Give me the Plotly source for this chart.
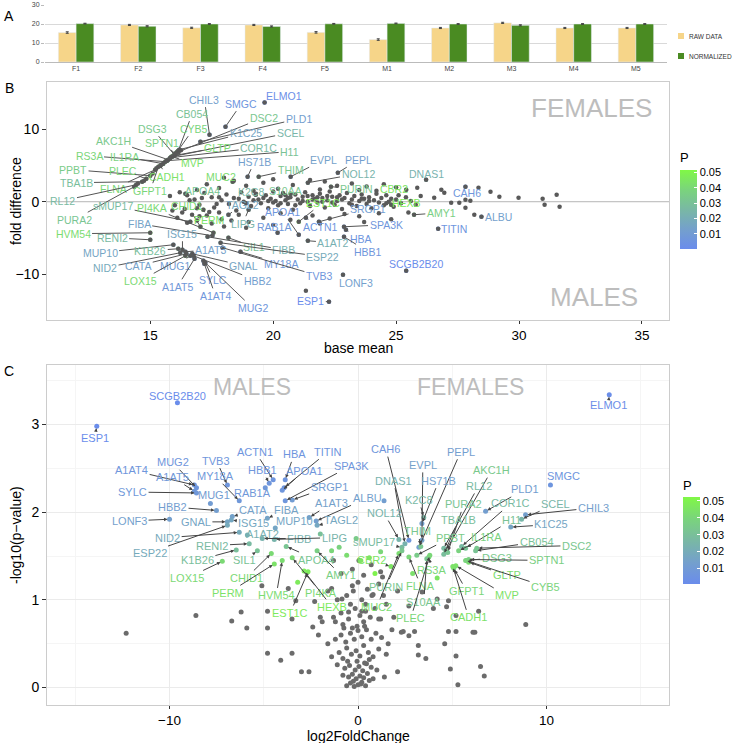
import plotly.graph_objects as go
from plotly.colors import sample_colorscale

W, H = 733, 743
FONT = "Liberation Sans, Arial, Helvetica, sans-serif"

def pxx(x):
    return x / W

def pxy(y):
    return 1 - y / H

# ---------------- Panel A data ----------------
samples = ["F1", "F2", "F3", "F4", "F5", "M1", "M2", "M3", "M4", "M5"]
raw_data = [15.5, 19.5, 18.0, 19.5, 15.6, 11.8, 17.9, 20.6, 17.9, 17.9]
raw_err = [0.4, 0.3, 0.3, 0.3, 0.4, 0.4, 0.3, 0.3, 0.3, 0.3]
normalized = [20.2, 18.8, 20.0, 18.7, 20.1, 20.3, 20.0, 19.3, 20.0, 20.0]
norm_err = [0.2, 0.3, 0.2, 0.3, 0.2, 0.2, 0.2, 0.3, 0.2, 0.2]

# ---------------- P values of significant genes ----------------
p_gene = ["CHIL3", "SMGC", "ELMO1", "CB054", "DSC2", "PLD1", "DSG3", "CYB5", "K1C25", "SCEL",
          "AKC1H", "SPTN1", "GLTP", "COR1C", "H11", "RS3A", "IL1RA", "MVP", "PPBT", "PLEC",
          "TBA1B", "CADH1", "FLNA", "GFPT1", "RL12", "PURA2", "HS71B", "EVPL", "PEPL", "THIM",
          "NOL12", "MUC2", "DNAS1", "APOA4", "K2C8", "S10AA", "PURIN", "CBR2", "CAH6", "CHID1",
          "sMUP17", "PI4KA", "TAGL2", "APOA1", "EST1C", "SRGP1", "HEXB", "PERM", "LIPG", "RAB1A",
          "ACTN1", "SPA3K", "AMY1", "ALBU", "TITIN", "HVM54", "RENI2", "FIBA", "ISG15", "HBA",
          "A1AT2", "MUP10", "K1B26", "A1AT3", "SIL1", "FIBB", "HBB1", "ESP22", "MY18A", "NID2",
          "CATA", "MUG1", "GNAL", "SCGB2B20", "TVB3", "HBB2", "LOX15", "A1AT5", "SYLC", "A1AT4",
          "MUG2", "LONF3", "ESP1"]
p_value = [0.013, 0.006, 0.002, 0.031, 0.033, 0.012, 0.034, 0.039, 0.016, 0.025,
           0.034, 0.037, 0.042, 0.027, 0.031, 0.040, 0.038, 0.044, 0.035, 0.040,
           0.029, 0.044, 0.040, 0.040, 0.027, 0.032, 0.013, 0.014, 0.012, 0.033,
           0.024, 0.042, 0.023, 0.032, 0.026, 0.033, 0.033, 0.045, 0.007, 0.041,
           0.028, 0.041, 0.017, 0.007, 0.047, 0.011, 0.047, 0.044, 0.024, 0.008,
           0.006, 0.007, 0.037, 0.013, 0.006, 0.042, 0.027, 0.015, 0.017, 0.006,
           0.022, 0.016, 0.029, 0.014, 0.031, 0.023, 0.007, 0.019, 0.008, 0.019,
           0.014, 0.011, 0.016, 0.001, 0.007, 0.012, 0.041, 0.008, 0.008, 0.007,
           0.007, 0.013, 0.001]

# ---------------- Panel B: labelled genes (gene, base mean, fold, label mean, label fold) ----
b_genes = [
    ("CHIL3", 17.41, 9.24, 17.2, 14.07), ("SMGC", 18.06, 10.34, 18.71, 13.52),
    ("ELMO1", 19.65, 13.66, 20.43, 14.62), ("CB054", 16.14, 7.03, 16.71, 12.14),
    ("DSC2", 16.06, 6.76, 19.61, 11.59), ("PLD1", 17.04, 8.28, 21.04, 11.45),
    ("DSG3", 15.98, 6.48, 15.08, 10.07), ("CYB5", 16.1, 6.9, 16.76, 10.07),
    ("K1C25", 16.18, 7.17, 18.88, 9.52), ("SCEL", 15.9, 6.21, 20.71, 9.52),
    ("AKC1H", 15.73, 5.79, 13.49, 8.41), ("SPTN1", 16.02, 6.62, 15.49, 8.14),
    ("GLTP", 15.94, 6.34, 17.73, 7.45), ("COR1C", 15.82, 6.07, 19.41, 7.45),
    ("H11", 15.69, 5.66, 20.67, 6.9), ("RS3A", 15.61, 5.52, 12.51, 6.34),
    ("IL1RA", 15.53, 5.24, 13.94, 6.21), ("MVP", 15.86, 6.21, 16.71, 5.38),
    ("PPBT", 15.0, 3.59, 11.86, 4.41), ("PLEC", 14.84, 3.17, 13.9, 4.28),
    ("TBA1B", 14.67, 2.76, 11.98, 2.62), ("CADH1", 15.41, 4.97, 15.69, 3.45),
    ("FLNA", 15.2, 4.41, 13.49, 1.79), ("GFPT1", 15.33, 4.83, 15.0, 1.52),
    ("RL12", 14.43, 2.34, 11.45, 0.14), ("PURA2", 14.35, 2.07, 11.9, -2.48),
    ("HS71B", 18.96, 3.45, 19.24, 5.52), ("EVPL", 20.71, 3.45, 22.06, 5.79),
    ("PEPL", 22.63, 4.0, 23.49, 5.79), ("THIM", 19.41, 3.45, 20.71, 4.41),
    ("NOL12", 21.41, 2.62, 23.45, 3.86), ("MUC2", 18.35, 2.76, 17.86, 3.45),
    ("DNAS1", 26.22, 3.03, 26.22, 3.86), ("APOA4", 16.43, 1.1, 17.12, 1.52),
    ("K2C8", 19.29, 0.97, 19.08, 1.38), ("S10AA", 20.71, 1.1, 20.51, 1.52),
    ("PURIN", 22.35, 2.07, 23.37, 1.79), ("CBR2", 25.41, 1.66, 24.92, 1.79),
    ("CAH6", 27.82, 2.07, 27.9, 1.24), ("CHID1", 17.04, -3.45, 16.51, -0.55),
    ("sMUP17", 16.63, -2.76, 13.49, -0.55), ("PI4KA", 17.57, -4.28, 15.08, -0.83),
    ("TAGL2", 18.18, -1.79, 18.76, -0.41), ("APOA1", 21.04, -4.55, 20.39, -1.38),
    ("EST1C", 21.04, -2.76, 22.02, -0.14), ("SRGP1", 21.86, -2.76, 23.86, -0.97),
    ("HEXB", 24.8, -0.41, 25.41, -0.14), ("PERM", 17.16, -1.1, 17.37, -2.48),
    ("LIPG", 19.0, -1.1, 18.76, -3.03), ("RAB1A", 20.18, -4.28, 20.02, -3.45),
    ("ACTN1", 21.33, -2.21, 21.94, -3.45), ("SPA3K", 22.88, -3.45, 24.59, -3.17),
    ("AMY1", 25.73, -1.79, 26.84, -1.52), ("ALBU", 28.47, -2.07, 29.16, -2.07),
    ("TITIN", 26.71, -3.72, 27.37, -3.72), ("HVM54", 15.0, -4.28, 11.86, -4.41),
    ("RENI2", 15.0, -5.24, 13.45, -4.97), ("FIBA", 17.53, -4.69, 14.55, -3.03),
    ("ISG15", 16.31, -6.62, 16.31, -4.41), ("HBA", 22.96, -3.86, 23.57, -5.1),
    ("A1AT2", 21.41, -5.38, 22.43, -5.66), ("MUP10", 15.94, -5.93, 12.96, -7.03),
    ("K1B26", 16.14, -6.48, 15.0, -6.76), ("A1AT3", 16.43, -6.9, 17.45, -6.62),
    ("SIL1", 18.18, -4.97, 19.2, -6.21), ("FIBB", 17.33, -4.83, 20.43, -6.62),
    ("HBB1", 22.88, -4.83, 23.86, -6.9), ("ESP22", 17.86, -5.66, 22.02, -7.59),
    ("MY18A", 18.67, -6.9, 20.31, -8.55), ("NID2", 16.22, -7.03, 13.16, -9.1),
    ("CATA", 16.47, -7.17, 14.51, -8.83), ("MUG1", 16.63, -7.45, 16.02, -8.83),
    ("GNAL", 16.71, -7.17, 18.8, -8.83), ("SCGB2B20", 25.41, -9.52, 25.82, -8.55),
    ("TVB3", 17.94, -6.34, 21.86, -10.21), ("HBB2", 16.76, -7.45, 19.37, -10.9),
    ("LOX15", 16.43, -7.45, 14.59, -10.9), ("A1AT5", 16.8, -7.86, 16.1, -11.72),
    ("SYLC", 17.24, -8.41, 17.57, -10.76), ("A1AT4", 17.2, -8.55, 17.65, -12.97),
    ("MUG2", 17.16, -8.14, 19.16, -14.62), ("LONF3", 22.84, -10.07, 23.37, -11.17),
    ("ESP1", 22.27, -13.79, 21.53, -13.66),
]

# Panel B: other (non-labelled) genes: (base mean, fold difference)
b_cloud = [
    (17.3, 2.4), (17.8, 1.9), (18.4, 2.9), (18.9, 2.2), (19.6, 2.6), (20.2, 1.8), (20.8, 2.3),
    (21.5, 3.0), (22.1, 2.8), (22.6, 2.2), (23.2, 2.5), (23.8, 2.1), (24.5, 2.4), (25.0, 2.0),
    (16.9, 1.6), (19.2, 1.5), (21.9, 1.7), (23.5, 1.6), (24.2, 1.5), (18.0, 3.3), (20.0, 3.1),
    (16.5, 0.9), (16.8, 0.3), (17.0, -0.4), (17.2, 1.2), (17.5, 0.6), (17.6, -0.8), (17.9, 0.2),
    (18.1, 1.0), (18.2, -0.3), (18.4, 0.5), (18.5, -1.2), (18.7, 1.3), (18.8, 0.0), (19.0, 0.7),
    (19.1, -0.6), (19.3, 1.1), (19.4, 0.3), (19.5, -0.2), (19.7, 0.9), (19.8, -0.9), (19.9, 0.4),
    (20.0, 1.4), (20.1, 0.1), (20.2, -0.5), (20.3, 0.8), (20.4, 1.2), (20.5, 0.2), (20.6, -0.3),
    (20.7, 0.6), (20.8, -1.1), (20.9, 1.0), (21.0, 0.3), (21.1, -0.2), (21.2, 0.7), (21.3, 1.3),
    (21.4, 0.0), (21.5, -0.6), (21.6, 0.9), (21.7, 0.4), (21.8, -0.1), (21.9, 1.1), (22.0, 0.5),
    (22.1, -0.8), (22.2, 0.2), (22.3, 1.4), (22.4, 0.7), (22.5, -0.4), (22.6, 0.1), (22.7, 0.9),
    (22.8, -1.0), (22.9, 0.5), (23.0, 1.2), (23.1, -0.2), (23.2, 0.3), (23.3, 0.8), (23.4, -0.6),
    (23.5, 0.1), (23.6, 1.0), (23.7, 0.4), (23.8, -0.3), (23.9, 0.6), (24.0, -0.9), (24.1, 0.2),
    (24.2, 1.1), (24.3, -0.1), (24.4, 0.5), (24.5, -0.5), (24.6, 0.9), (24.7, 0.0), (24.8, 0.4),
    (24.9, -0.7), (25.0, 0.3), (25.1, 0.9), (25.2, -0.2), (25.4, 0.6), (25.6, 0.1), (25.8, -0.4),
    (26.0, 0.8), (19.6, 0.5), (20.0, -0.1), (20.6, 0.5), (21.2, 0.1), (21.6, 0.3), (22.0, 0.0),
    (22.4, -0.1), (22.8, 0.3), (23.2, -0.4), (23.6, 0.4), (20.3, -0.2), (21.8, 0.6), (19.2, 0.2),
    (18.6, 0.4), (17.8, 0.6), (18.9, -0.2), (20.9, -0.5), (22.6, 0.6), (23.9, 0.1), (24.6, -0.2),
    (21.4, 0.8), (20.5, 0.9), (19.8, 0.1), (22.2, 0.8),
    (15.8, 0.8), (16.0, -0.5), (16.2, 1.3), (16.4, -1.0), (16.6, 0.2), (16.7, -1.8), (16.9, -0.9),
    (17.1, 0.5), (17.4, -1.4), (17.7, -0.3), (16.1, -2.2), (16.5, -2.9), (17.0, -2.0), (17.5, -3.0),
    (17.8, -1.5), (18.3, -2.6), (18.0, -3.4), (15.9, -1.2),
    (16.3, -1.5), (17.3, -1.9), (17.9, -2.4), (18.6, -1.8), (19.0, -2.8), (19.6, -2.2), (20.3, -1.6),
    (20.7, -2.5), (21.6, -1.9), (22.3, -2.3), (22.9, -1.7), (23.5, -2.0), (24.3, -1.6), (24.8, -2.4),
    (25.5, -1.5), (18.9, -3.6), (20.0, -3.2), (21.9, -3.0), (23.7, -2.8), (16.9, -2.6),
    (14.5, 2.5), (14.75, 2.9), (15.1, 3.9), (15.25, 4.6), (15.45, 5.1), (15.65, 5.6), (15.8, 6.0),
    (16.0, 6.4), (16.15, 6.8), (16.25, 7.1),
    (26.55, 0.55), (26.84, 1.66), (26.96, 1.24), (27.24, -0.14), (27.57, -0.14), (27.82, -0.83),
    (27.82, 0.28), (28.02, 0.14), (28.18, -1.79), (28.84, 1.38), (29.2, 0.69), (29.98, 0.55),
    (30.96, 0.41), (31.04, -0.41), (31.53, 0.97), (31.65, -0.69), (25.86, 1.93), (28.35, 1.93),
    (21.33, -12.28),
]

# ---------------- Panel C: labelled genes (gene, log2FC, -log10 p, label x, label y) ----
c_genes = [
    ("SCGB2B20", -9.58, 3.25, -9.58, 3.33), ("ESP1", -13.86, 2.98, -13.97, 2.85),
    ("ELMO1", 13.33, 3.34, 13.28, 3.22), ("ACTN1", -4.5, 2.37, -5.45, 2.69),
    ("HBA", -3.86, 2.37, -3.39, 2.66), ("TITIN", -3.92, 2.28, -1.59, 2.69),
    ("HBB1", -4.71, 2.33, -5.08, 2.48), ("APOA1", -4.02, 2.25, -2.86, 2.47),
    ("SPA3K", -3.86, 2.13, -0.37, 2.53), ("SRGP1", -3.49, 2.14, -1.53, 2.29),
    ("ALBU", -2.22, 1.9, 0.48, 2.16), ("A1AT3", -2.59, 1.94, -1.43, 2.1),
    ("TAGL2", -2.17, 1.85, -0.9, 1.91), ("MUP10", -4.39, 1.82, -3.39, 1.9),
    ("FIBA", -4.81, 1.93, -3.81, 2.03), ("CATA", -6.67, 1.95, -5.56, 2.02),
    ("ISG15", -6.72, 1.91, -5.55, 1.88), ("A1AT2", -5.87, 1.74, -5.08, 1.75),
    ("FIBB", -5.08, 1.7, -3.12, 1.7), ("LIPG", -4.44, 1.69, -1.27, 1.71),
    ("sMUP17", 2.33, 1.6, 0.85, 1.66), ("RENI2", -5.77, 1.64, -7.72, 1.62),
    ("APOA4", -3.81, 1.61, -2.22, 1.46), ("AMY1", -2.17, 1.56, -0.9, 1.28),
    ("K1B26", -6.46, 1.57, -8.52, 1.45), ("SIL1", -5.34, 1.56, -6.03, 1.45),
    ("CHID1", -4.6, 1.53, -5.93, 1.25), ("LOX15", -7.2, 1.44, -9.05, 1.25),
    ("PERM", -4.44, 1.41, -6.88, 1.08), ("HVM54", -4.02, 1.45, -4.34, 1.05),
    ("PI4KA", -3.49, 1.48, -1.96, 1.08), ("EST1C", -2.65, 1.32, -3.6, 0.85),
    ("HEXB", -2.86, 1.33, -1.38, 0.92), ("A1AT4", -8.68, 2.31, -12.01, 2.48),
    ("MUG2", -8.57, 2.28, -9.84, 2.57), ("A1AT5", -8.68, 2.24, -9.84, 2.4),
    ("TVB3", -6.93, 2.31, -7.51, 2.59), ("MY18A", -6.3, 2.13, -7.57, 2.41),
    ("SYLC", -8.57, 2.22, -11.96, 2.23), ("MUG1", -7.83, 2.1, -7.62, 2.2),
    ("RAB1A", -4.92, 2.28, -5.61, 2.22), ("HBB2", -7.51, 2.02, -9.84, 2.06),
    ("LONF3", -10.0, 1.92, -12.12, 1.9), ("GNAL", -6.93, 1.89, -8.6, 1.89),
    ("NID2", -6.3, 1.77, -10.1, 1.71), ("ESP22", -6.93, 1.85, -11.06, 1.54),
    ("CAH6", 2.7, 1.68, 1.48, 2.72), ("EVPL", 3.39, 1.68, 3.44, 2.54),
    ("PEPL", 3.23, 1.6, 5.45, 2.69), ("DNAS1", 2.49, 1.64, 1.9, 2.36),
    ("HS71B", 3.39, 1.87, 4.29, 2.36), ("K2C8", 3.49, 1.94, 3.23, 2.14),
    ("NOL12", 2.17, 1.69, 1.38, 1.99), ("THIM", 3.33, 1.61, 3.17, 1.78),
    ("AKC1H", 4.66, 1.56, 7.09, 2.48), ("RL12", 4.55, 1.59, 6.4, 2.3),
    ("PLD1", 6.77, 2.01, 8.84, 2.26), ("SMGC", 10.21, 2.31, 10.9, 2.41),
    ("CHIL3", 8.89, 1.97, 12.49, 2.05), ("SCEL", 8.68, 1.92, 10.48, 2.09),
    ("COR1C", 5.5, 1.61, 8.1, 2.1), ("PURA2", 4.76, 1.54, 5.61, 2.09),
    ("TBA1B", 4.55, 1.52, 5.34, 1.91), ("H11", 5.71, 1.59, 8.15, 1.91),
    ("K1C25", 8.1, 1.83, 10.26, 1.86), ("PPBT", 3.12, 1.51, 4.92, 1.71),
    ("IL1RA", 5.34, 1.56, 6.83, 1.72), ("CB054", 6.24, 1.56, 9.47, 1.66),
    ("DSC2", 6.3, 1.59, 11.59, 1.62), ("DSG3", 5.77, 1.45, 7.35, 1.48),
    ("SPTN1", 5.87, 1.46, 10.0, 1.45), ("GLTP", 5.87, 1.43, 7.88, 1.28),
    ("CYB5", 5.71, 1.45, 9.95, 1.15), ("MVP", 5.19, 1.39, 7.88, 1.05),
    ("GFPT1", 5.08, 1.36, 5.77, 1.1), ("RS3A", 3.76, 1.49, 3.92, 1.34),
    ("FLNA", 2.7, 1.49, 3.33, 1.16), ("S10AA", 3.65, 1.47, 3.49, 0.98),
    ("PLEC", 3.81, 1.51, 2.8, 0.79), ("CADH1", 5.03, 1.38, 5.87, 0.8),
    ("CBR2", 1.75, 1.38, 0.74, 1.45), ("PURIN", 2.33, 1.56, 1.48, 1.15),
    ("MUC2", 2.17, 1.53, 1.0, 0.92),
]

# Panel C: other significant (coloured) genes without labels: (log2FC, -log10 p, P)
c_sig = [(-1.4, 1.56, 0.04), (-0.6, 1.51, 0.042), (0.15, 1.45, 0.045), (-0.1, 1.7, 0.035),
         (0.6, 1.48, 0.046), (1.2, 1.55, 0.04), (-3.2, 1.2, 0.047), (-1.0, 1.6, 0.038),
         (2.9, 1.3, 0.043), (4.2, 1.25, 0.045), (1.38, 2.13, 0.012), (-2.0, 1.75, 0.03),
         (0.9, 1.3, 0.05)]

# Panel C: non-significant genes: (log2FC, -log10 p)
c_cloud = [
    (-0.6, 0.02), (-0.4, 0.05), (-0.2, 0.01), (0.0, 0.03), (0.2, 0.06), (0.4, 0.02), (0.6, 0.08),
    (-0.5, 0.12), (-0.3, 0.15), (-0.1, 0.1), (0.1, 0.13), (0.3, 0.11), (0.5, 0.16), (0.8, 0.1),
    (-0.8, 0.14), (-0.7, 0.22), (-0.45, 0.25), (-0.15, 0.2), (0.05, 0.24), (0.25, 0.19),
    (0.45, 0.27), (0.7, 0.23), (1.0, 0.2), (1.4, 0.12), (-1.1, 0.26), (-0.25, 0.07), (0.15, 0.04),
    (0.35, 0.28), (-0.05, 0.3), (-0.55, 0.3),
    (-1.4, 0.35), (-1.0, 0.4), (-0.8, 0.33), (-0.6, 0.45), (-0.35, 0.38), (-0.1, 0.42), (0.1, 0.36),
    (0.3, 0.48), (0.55, 0.4), (0.8, 0.35), (1.1, 0.44), (1.5, 0.38), (-1.6, 0.5), (-1.2, 0.55),
    (-0.9, 0.6), (-0.65, 0.52), (-0.4, 0.62), (-0.2, 0.55), (0.0, 0.65), (0.2, 0.58), (0.45, 0.66),
    (0.7, 0.55), (0.95, 0.62), (1.25, 0.57), (1.6, 0.5), (-0.3, 0.68), (0.35, 0.7), (0.6, 0.32),
    (-0.75, 0.68), (1.8, 0.66), (-2.1, 0.6),
    (-1.9, 0.75), (-1.3, 0.8), (-0.9, 0.85), (-0.5, 0.78), (-0.15, 0.9), (0.1, 0.82), (0.4, 0.95),
    (0.65, 0.8), (0.9, 0.9), (1.2, 0.78), (1.5, 0.95), (-1.1, 1.0), (-0.6, 1.05), (-0.25, 1.1),
    (0.2, 1.0), (0.5, 1.12), (0.8, 1.06), (1.1, 1.18), (-1.6, 1.1), (0.0, 1.2), (-0.4, 0.95),
    (0.3, 0.75), (-0.8, 0.72), (1.35, 1.05),
    (-0.9, 1.3), (-0.3, 1.35), (0.3, 1.28), (0.7, 1.4), (1.2, 1.32), (-1.3, 1.45), (0.05, 1.45),
    (-12.3, 0.62), (-4.8, 0.39), (-3.5, 0.39), (-4.1, 0.31), (-3.0, 0.18), (-2.6, 0.18),
    (3.2, 0.48), (4.6, 0.5), (3.2, 0.37), (3.6, 0.33), (5.2, 0.36), (4.9, 0.21), (6.5, 0.24),
    (6.7, 0.13), (5.3, 0.03), (2.4, 0.64), (2.7, 0.59), (5.2, 0.64), (6.2, 0.63), (2.1, 0.18),
    (-8.6, 0.82), (-6.7, 0.76), (-5.9, 0.68), (-4.8, 0.68), (-6.2, 0.86), (-5.1, 1.16),
    (-3.7, 1.13), (-3.3, 0.99), (-4.8, 0.87), (-3.5, 0.78), (-2.3, 0.98), (-2.4, 0.69),
    (-1.4, 1.13), (-0.85, 1.01), (-0.3, 1.16), (-0.5, 0.86), (-0.05, 0.7), (-2.0, 0.8),
    (-1.2, 0.75), (0.2, 0.87),
    (4.8, 0.99), (4.7, 0.92), (4.0, 0.9), (5.2, 0.82), (4.8, 0.64), (6.1, 0.63), (8.9, 0.72),
    (6.4, 0.87), (1.9, 0.8), (2.3, 0.63), (3.0, 0.64), (0.74, 1.05), (1.3, 1.26), (0.4, 0.87),
    (1.1, 0.78), (2.1, 1.1), (2.7, 0.93), (3.4, 1.09), (4.2, 1.01),
]

# ---------------- colour scale for P ----------------
P_MIN, P_MAX = 0.0005, 0.052
p_scale = [[0.0, "#6a8cec"], [0.25, "#74a0cc"], [0.5, "#79b8a4"], [0.75, "#7ad47c"], [1.0, "#80f846"]]
p_lookup = dict(zip(p_gene, p_value))


def p_color(p):
    t = min(1.0, max(0.0, (p - P_MIN) / (P_MAX - P_MIN)))
    return sample_colorscale(p_scale, [t])[0]


fig = go.Figure()

# ---- Panel A bars ----
fig.add_trace(go.Bar(x=samples, y=raw_data, name="RAW DATA", marker_color="#f6d589",
                     error_y=dict(type="data", array=raw_err, color="#444", thickness=1, width=1.5),
                     xaxis="x", yaxis="y", showlegend=False))
fig.add_trace(go.Bar(x=samples, y=normalized, name="NORMALIZED", marker_color="#4a8b22",
                     error_y=dict(type="data", array=norm_err, color="#444", thickness=1, width=1.5),
                     xaxis="x", yaxis="y", showlegend=False))

# ---- Panel B points ----
b_names = [g[0] for g in b_genes]
b_mean = [g[1] for g in b_genes]
b_fold = [g[2] for g in b_genes]
fig.add_trace(go.Scatter(x=b_mean, y=b_fold, mode="markers", xaxis="x2", yaxis="y2",
                         marker=dict(size=4.5, color=[p_lookup[n] for n in b_names],
                                     coloraxis="coloraxis"),
                         showlegend=False, hoverinfo="skip"))
fig.add_trace(go.Scatter(x=[c[0] for c in b_cloud] + b_mean, y=[c[1] for c in b_cloud] + b_fold,
                         mode="markers", xaxis="x2", yaxis="y2",
                         marker=dict(size=4.5, color="#595959"), showlegend=False, hoverinfo="skip"))

# ---- Panel C points ----
fig.add_trace(go.Scatter(x=[c[0] for c in c_cloud], y=[c[1] for c in c_cloud], mode="markers",
                         xaxis="x3", yaxis="y3", marker=dict(size=5, color="#6b6b6b"),
                         showlegend=False, hoverinfo="skip"))
c_names = [g[0] for g in c_genes]
fig.add_trace(go.Scatter(x=[g[1] for g in c_genes] + [s[0] for s in c_sig],
                         y=[g[2] for g in c_genes] + [s[1] for s in c_sig],
                         mode="markers", xaxis="x3", yaxis="y3",
                         marker=dict(size=5, color=[p_lookup[n] for n in c_names] + [s[2] for s in c_sig],
                                     coloraxis="coloraxis2"),
                         showlegend=False, hoverinfo="skip"))

ann = []
# Panel B labels (segments without heads)
for name, x, y, lx, ly in b_genes:
    ann.append(dict(x=x, y=y, xref="x2", yref="y2", ax=lx, ay=ly, axref="x2", ayref="y2",
                    text=name, showarrow=True, arrowhead=0, arrowwidth=1, arrowcolor="#555555",
                    standoff=0, font=dict(family=FONT, size=10.5, color=p_color(p_lookup[name]))))
# Panel C labels (arrows)
for name, x, y, lx, ly in c_genes:
    ann.append(dict(x=x, y=y, xref="x3", yref="y3", ax=lx, ay=ly, axref="x3", ayref="y3",
                    text=name, showarrow=True, arrowhead=2, arrowsize=0.7, arrowwidth=1,
                    arrowcolor="#444444", standoff=2,
                    font=dict(family=FONT, size=11, color=p_color(p_lookup[name]))))

# big group labels
ann += [
    dict(x=32.96, y=12.97, xref="x2", yref="y2", text="FEMALES", showarrow=False,
         font=dict(family=FONT, size=26, color="#bdbdbd")),
    dict(x=33.04, y=-13.1, xref="x2", yref="y2", text="MALES", showarrow=False,
         font=dict(family=FONT, size=26, color="#bdbdbd")),
    dict(x=-5.61, y=3.43, xref="x3", yref="y3", text="MALES", showarrow=False,
         font=dict(family=FONT, size=23, color="#bdbdbd")),
    dict(x=5.98, y=3.43, xref="x3", yref="y3", text="FEMALES", showarrow=False,
         font=dict(family=FONT, size=23, color="#bdbdbd")),
]


def paper_text(text, x, y, size, color="black", angle=0, xanchor="center"):
    return dict(x=pxx(x), y=pxy(y), xref="paper", yref="paper", text=text, showarrow=False,
                xanchor=xanchor, yanchor="middle", textangle=angle,
                font=dict(family=FONT, size=size, color=color))


# panel letters and axis titles
ann += [
    paper_text("A", 9, 16, 14), paper_text("B", 9, 88, 14), paper_text("C", 9, 371, 14),
    paper_text("base mean", 358, 348, 14),
    paper_text("fold difference", 16, 201, 14, angle=-90),
    paper_text("log2FoldChange", 358, 735.5, 14),
    paper_text("-log10(p\u2212value)", 16, 535, 14, angle=-90),
    paper_text("RAW DATA", 687, 36, 6.5, "#333", xanchor="left"),
    paper_text("NORMALIZED", 687, 56, 6.5, "#333", xanchor="left"),
]

shapes = [
    dict(type="rect", xref="paper", yref="paper", x0=pxx(678), x1=pxx(684), y0=pxy(39), y1=pxy(33),
         fillcolor="#f6d589", line=dict(width=0)),
    dict(type="rect", xref="paper", yref="paper", x0=pxx(678), x1=pxx(684), y0=pxy(59), y1=pxy(53),
         fillcolor="#4a8b22", line=dict(width=0)),
    dict(type="line", xref="x2 domain", yref="y2", x0=0, x1=1, y0=0, y1=0,
         line=dict(color="#b5b5b5", width=1), layer="below"),
]

tickfont = dict(family=FONT, size=14, color="black")
xtickfont = dict(family=FONT, size=13.5, color="black")
colorbar_common = dict(thickness=17, lenmode="pixels", xanchor="left", yanchor="middle",
                       xpad=0, ypad=0,
                       tickvals=[0.01, 0.02, 0.03, 0.04, 0.05],
                       ticktext=["0.01", "0.02", "0.03", "0.04", "0.05"],
                       ticks="inside", ticklen=3, tickcolor="white", outlinewidth=0,
                       tickfont=dict(family=FONT, size=11, color="black"),
                       title=dict(text="P", side="top", font=dict(family=FONT, size=13, color="black")))

fig.update_layout(
    width=W, height=H, autosize=False, margin=dict(l=0, r=0, t=0, b=0, autoexpand=False),
    paper_bgcolor="white", plot_bgcolor="white",
    barmode="group", bargap=0.43, bargroupgap=0.0,
    font=dict(family=FONT),
    xaxis=dict(domain=[pxx(45), pxx(667)], showline=True, linecolor="#bbbbbb", ticks="",
               showgrid=False, automargin=False,
               tickfont=dict(family=FONT, size=7, color="#444"), anchor="y", fixedrange=True),
    yaxis=dict(domain=[pxy(62), pxy(5)], range=[0, 30], tickvals=[0, 10, 20, 30],
               showgrid=True, gridcolor="#d9d9d9", zeroline=False, automargin=False,
               tickfont=dict(family=FONT, size=7, color="#444"), anchor="x", ticks="outside",
               ticklen=3, tickcolor="#bbbbbb"),
    xaxis2=dict(domain=[pxx(47), pxx(669)], range=[10.8, 36.1], tickvals=[15, 20, 25, 30, 35],
                showgrid=False, zeroline=False, showline=True, mirror=True, linecolor="#cccccc",
                automargin=False,
                ticks="outside", ticklen=3, tickcolor="#333", tickfont=xtickfont, anchor="y2"),
    yaxis2=dict(domain=[pxy(320), pxy(82)], range=[-16.3, 16.5], tickvals=[-10, 0, 10],
                ticktext=["\u221210", "0", "10"], showgrid=False, zeroline=False, showline=True,
                mirror=True, linecolor="#cccccc", ticks="outside", ticklen=4, tickcolor="#333",
                automargin=False, tickfont=tickfont, anchor="x2"),
    xaxis3=dict(domain=[pxx(47), pxx(669)], range=[-16.5, 16.5], tickvals=[-10, 0, 10],
                ticktext=["\u221210", "0", "10"], showgrid=True, gridcolor="#ebebeb",
                minor=dict(tickvals=[-15, -5, 5, 15], showgrid=True, gridcolor="#f5f5f5"),
                zeroline=False, showline=True, mirror=True, linecolor="#cccccc", automargin=False,
                ticks="outside", ticklen=3, tickcolor="#333", tickfont=xtickfont, anchor="y3"),
    yaxis3=dict(domain=[pxy(705), pxy(365)], range=[-0.2, 3.68], tickvals=[0, 1, 2, 3],
                showgrid=True, gridcolor="#ebebeb",
                minor=dict(tickvals=[0.5, 1.5, 2.5, 3.5], showgrid=True, gridcolor="#f5f5f5"),
                zeroline=False, showline=True, mirror=True, linecolor="#cccccc", automargin=False,
                ticks="outside", ticklen=4, tickcolor="#333", tickfont=tickfont, anchor="x3"),
    coloraxis=dict(colorscale=p_scale, cmin=P_MIN, cmax=P_MAX,
                   colorbar=dict(x=pxx(680), y=pxy(199), len=99, **colorbar_common)),
    coloraxis2=dict(colorscale=p_scale, cmin=P_MIN, cmax=P_MAX,
                    colorbar=dict(x=pxx(683), y=pxy(531), len=107, **colorbar_common)),
    annotations=ann, shapes=shapes,
)

fig.write_html("out.html",
               config={"responsive": False, "displayModeBar": False},
               post_script="document.body.style.margin='0';document.body.style.overflow='hidden';")
